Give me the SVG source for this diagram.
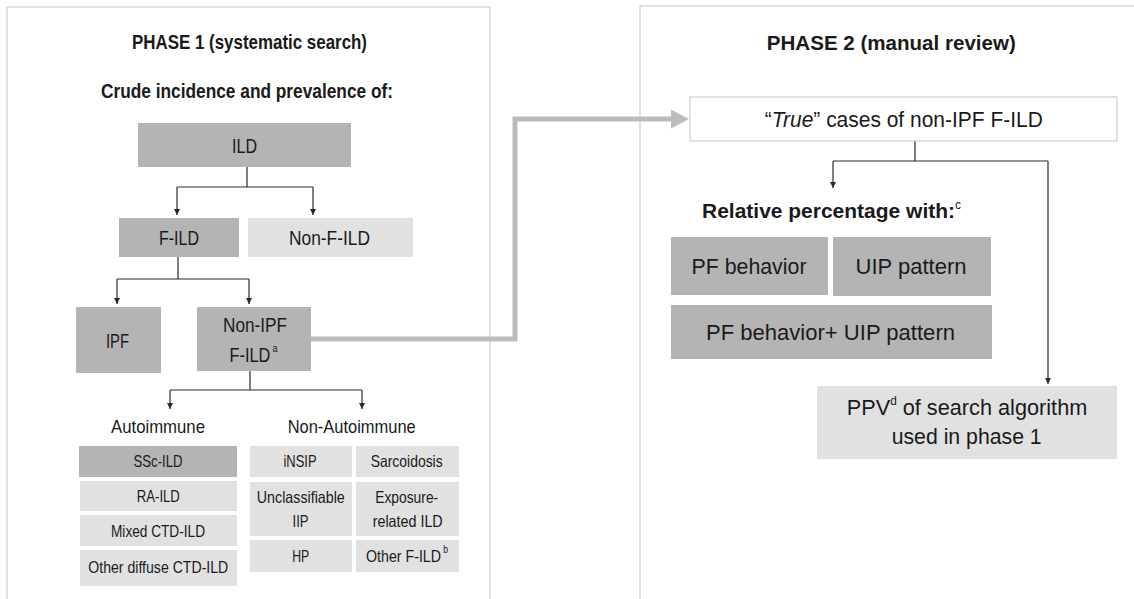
<svg xmlns="http://www.w3.org/2000/svg" width="1134" height="599" viewBox="0 0 1134 599">
<style>
.panel{fill:none;stroke:#cfcfcf;stroke-width:1.2}
.dk{fill:#b4b4b4}
.lt{fill:#e1e1e1}
.wh{fill:#ffffff;stroke:#cdcdcd;stroke-width:1.2}
text{font-family:"Liberation Sans",Arial,sans-serif;fill:#1a1a1a}
.t{font-weight:bold;font-size:21px;text-anchor:middle}
.b{font-weight:bold;font-size:21px}
.l{font-size:20px;text-anchor:middle}
.h{font-size:19px;text-anchor:middle}
.s{font-size:16.5px;text-anchor:middle}
.p{font-size:22px;text-anchor:middle}
.con{fill:none;stroke:#2a2a2a;stroke-width:1.2}
</style>
<defs>
<marker id="ah" viewBox="0 0 10 10" refX="10" refY="5" markerWidth="6" markerHeight="6" markerUnits="userSpaceOnUse" orient="auto">
<path d="M0,0 L10,5 L0,10 z" fill="#2a2a2a"/>
</marker>
</defs>
<rect width="1134" height="599" fill="#ffffff"/>
<g id="panel1">
<rect class="panel" x="7" y="7" width="483" height="640"/>
<text class="t" x="249.5" y="49" textLength="235" lengthAdjust="spacingAndGlyphs">PHASE 1 (systematic search)</text>
<text class="b" x="247" y="98" text-anchor="middle" textLength="292" lengthAdjust="spacingAndGlyphs">Crude incidence and prevalence of:</text>
</g>
<g id="panel2">
<rect class="panel" x="640" y="6" width="520" height="640"/>
<text class="t" x="891.3" y="50" textLength="249" lengthAdjust="spacingAndGlyphs">PHASE 2 (manual review)</text>
</g>
<g id="connectors">
<path class="con" d="M247,167 V187 M177,187 H313"/>
<path class="con" d="M177,187 V215" marker-end="url(#ah)"/>
<path class="con" d="M313,187 V215" marker-end="url(#ah)"/>
<path class="con" d="M178,257 V279 M117,279 H249"/>
<path class="con" d="M117,279 V304" marker-end="url(#ah)"/>
<path class="con" d="M249,279 V304" marker-end="url(#ah)"/>
<path class="con" d="M250,371 V390 M170,390 H362"/>
<path class="con" d="M170,390 V409" marker-end="url(#ah)"/>
<path class="con" d="M362,390 V409" marker-end="url(#ah)"/>
<path class="con" d="M915,141 V161 M833,161 H1048"/>
<path class="con" d="M833,161 V188" marker-end="url(#ah)"/>
<path class="con" d="M1048,161 V384" marker-end="url(#ah)"/>
<path d="M311,339 H515 V119 H673" fill="none" stroke="#bcbcbc" stroke-width="5"/>
<path d="M671,109.5 L689,119 L671,128.5 z" fill="#bcbcbc"/>
</g>
<g id="ild">
<rect class="dk" x="138" y="123" width="213" height="44"/>
<text class="l" x="244.5" y="153" textLength="25" lengthAdjust="spacingAndGlyphs">ILD</text>
</g>
<g id="f-ild">
<rect class="dk" x="119" y="218" width="120" height="39"/>
<text class="l" x="179" y="245" textLength="40" lengthAdjust="spacingAndGlyphs">F-ILD</text>
</g>
<g id="non-f-ild">
<rect class="lt" x="248" y="218" width="165" height="39"/>
<text class="l" x="329.5" y="245" textLength="81" lengthAdjust="spacingAndGlyphs">Non-F-ILD</text>
</g>
<g id="ipf">
<rect class="dk" x="76" y="307" width="85" height="66"/>
<text class="l" x="117.5" y="348" textLength="23" lengthAdjust="spacingAndGlyphs">IPF</text>
</g>
<g id="non-ipf">
<rect class="dk" x="197" y="307" width="114" height="64"/>
<text class="l" x="255" y="332" textLength="64" lengthAdjust="spacingAndGlyphs">Non-IPF</text>
<text x="229.5" y="362" style="font-size:20px" textLength="48" lengthAdjust="spacingAndGlyphs">F-ILD<tspan font-size="11" dx="2.5" dy="-10">a</tspan></text>
</g>
<g id="autoimmune">
<text class="h" x="158" y="433" textLength="94" lengthAdjust="spacingAndGlyphs">Autoimmune</text>
</g>
<g id="non-autoimmune">
<text class="h" x="351.7" y="433" textLength="128" lengthAdjust="spacingAndGlyphs">Non-Autoimmune</text>
</g>
<g id="ssc-ild">
<rect class="dk" x="79" y="446" width="158" height="31"/>
<text class="s" x="158" y="467" textLength="49" lengthAdjust="spacingAndGlyphs">SSc-ILD</text>
</g>
<g id="ra-ild">
<rect class="lt" x="80" y="481" width="157" height="30"/>
<text class="s" x="158.3" y="502" textLength="43" lengthAdjust="spacingAndGlyphs">RA-ILD</text>
</g>
<g id="mixed-ctd-ild">
<rect class="lt" x="80" y="515" width="157" height="31"/>
<text class="s" x="158" y="537" textLength="94" lengthAdjust="spacingAndGlyphs">Mixed CTD-ILD</text>
</g>
<g id="other-ctd-ild">
<rect class="lt" x="80" y="550" width="157" height="36"/>
<text class="s" x="158.3" y="573" textLength="140" lengthAdjust="spacingAndGlyphs">Other diffuse CTD-ILD</text>
</g>
<g id="insip">
<rect class="lt" x="250" y="446" width="102" height="31"/>
<text class="s" x="300" y="467" textLength="33" lengthAdjust="spacingAndGlyphs">iNSIP</text>
</g>
<g id="sarcoidosis">
<rect class="lt" x="356" y="446" width="103" height="31"/>
<text class="s" x="406.7" y="467" textLength="72" lengthAdjust="spacingAndGlyphs">Sarcoidosis</text>
</g>
<g id="unclassifiable-iip">
<rect class="lt" x="250" y="482" width="102" height="54"/>
<text class="s" x="300.8" y="503" textLength="88" lengthAdjust="spacingAndGlyphs">Unclassifiable</text>
<text class="s" x="300.5" y="527" textLength="16" lengthAdjust="spacingAndGlyphs">IIP</text>
</g>
<g id="exposure-ild">
<rect class="lt" x="356" y="482" width="103" height="54"/>
<text class="s" x="406.7" y="503" textLength="63" lengthAdjust="spacingAndGlyphs">Exposure-</text>
<text class="s" x="407.7" y="527" textLength="70" lengthAdjust="spacingAndGlyphs">related ILD</text>
</g>
<g id="hp">
<rect class="lt" x="250" y="540" width="102" height="32"/>
<text class="s" x="300.7" y="562" textLength="17" lengthAdjust="spacingAndGlyphs">HP</text>
</g>
<g id="other-f-ild">
<rect class="lt" x="356" y="540" width="103" height="32"/>
<text x="366" y="562" style="font-size:16.5px" textLength="82" lengthAdjust="spacingAndGlyphs">Other F-ILD<tspan font-size="10" dx="2.5" dy="-9">b</tspan></text>
</g>
<g id="true-cases">
<rect class="wh" x="690" y="97" width="427" height="44"/>
<text class="p" x="903.8" y="127" textLength="278" lengthAdjust="spacingAndGlyphs">“<tspan font-style="italic">True</tspan>” cases of non-IPF F-ILD</text>
</g>
<g id="relative-percentage">
<text class="b" x="702" y="218" textLength="259" lengthAdjust="spacingAndGlyphs">Relative percentage with:<tspan font-size="12" font-weight="normal" dy="-9">c</tspan></text>
</g>
<g id="pf-behavior">
<rect class="dk" x="671" y="237" width="157" height="58"/>
<text class="p" x="749" y="274" textLength="115" lengthAdjust="spacingAndGlyphs">PF behavior</text>
</g>
<g id="uip-pattern">
<rect class="dk" x="833" y="237" width="158" height="59"/>
<text class="p" x="911" y="274" textLength="111" lengthAdjust="spacingAndGlyphs">UIP pattern</text>
</g>
<g id="pf-uip">
<rect class="dk" x="671" y="305" width="321" height="54"/>
<text class="p" x="830.5" y="340" textLength="249" lengthAdjust="spacingAndGlyphs">PF behavior+ UIP pattern</text>
</g>
<g id="ppv">
<rect class="lt" x="817" y="386" width="300" height="73"/>
<text x="846.7" y="415" style="font-size:22px" textLength="240.6" lengthAdjust="spacingAndGlyphs">PPV<tspan font-size="12" dy="-10">d</tspan><tspan dy="10"> of search algorithm</tspan></text>
<text class="p" x="966.7" y="444" textLength="150" lengthAdjust="spacingAndGlyphs">used in phase 1</text>
</g>
</svg>
